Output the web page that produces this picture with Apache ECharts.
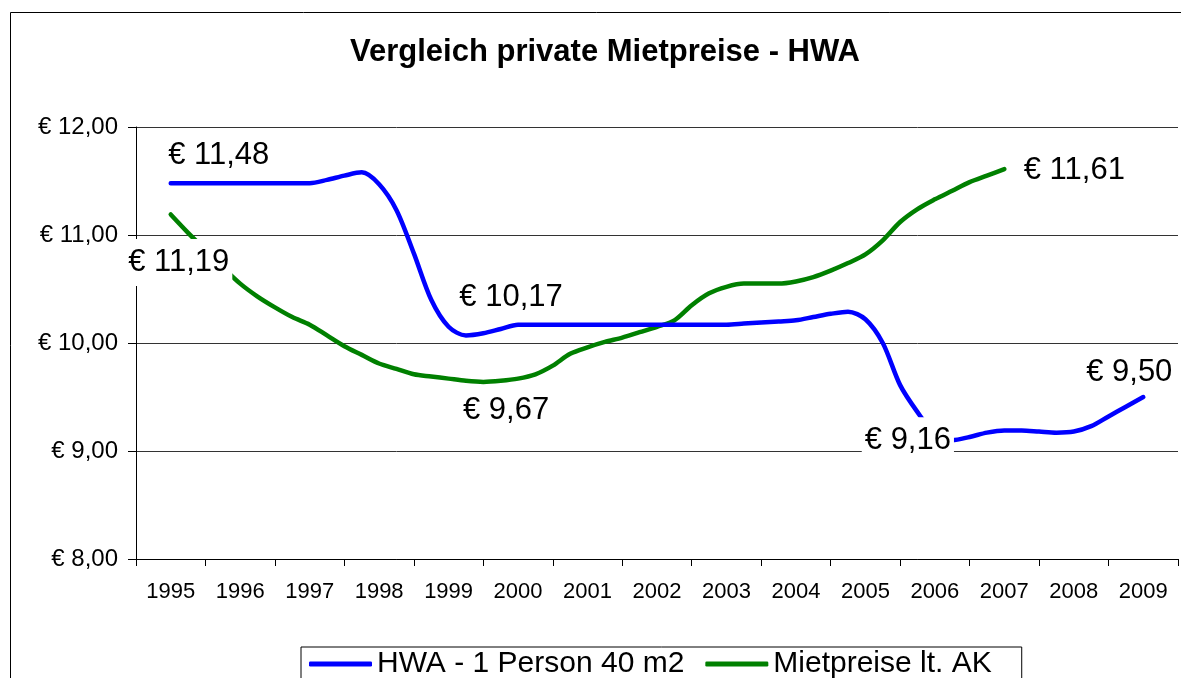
<!DOCTYPE html>
<html>
<head>
<meta charset="utf-8">
<script src="https://cdn.jsdelivr.net/npm/echarts@6/dist/echarts.min.js"></script>
<style>
html,body{margin:0;padding:0;background:#fff;}
#chart{width:1181px;height:678px;}
</style>
</head>
<body>
<div id="chart"></div>
<script>
// Categories (years) shown on the x axis
var years = ['1995','1996','1997','1998','1999','2000','2001','2002','2003','2004','2005','2006','2007','2008','2009'];
// Quarterly readings, starting at 1995.0, step 0.25 year
var startYear = 1995;
var step = 0.25;
var hwaValues = [
  11.48,11.48,11.48,11.48, 11.48,11.48,11.48,11.48,
  11.48,11.51,11.55,11.58, 11.47,11.23,10.83,10.40,
  10.15,10.07,10.09,10.13, 10.17,10.17,10.17,10.17,
  10.17,10.17,10.17,10.17, 10.17,10.17,10.17,10.17,
  10.17,10.18,10.19,10.20, 10.21,10.24,10.27,10.29,
  10.22,10.00,9.61,9.36, 9.16,9.10,9.13,9.17,
  9.19,9.19,9.18,9.17, 9.18,9.23,9.32,9.41,
  9.50
];
var akValues = [
  11.19,11.02,10.86,10.70, 10.55,10.43,10.33,10.24,
  10.17,10.07,9.97,9.89, 9.81,9.76,9.71,9.69,
  9.67,9.65,9.64,9.65, 9.67,9.71,9.79,9.90,
  9.96,10.01,10.05,10.10, 10.15,10.21,10.35,10.46,
  10.52,10.55,10.55,10.55, 10.57,10.61,10.67,10.74,
  10.82,10.95,11.12,11.24, 11.33,11.41,11.49,11.55,
  11.61
];
var seriesNames = ['HWA - 1 Person 40 m2', 'Mietpreise lt. AK'];
var yTicks = [8, 9, 10, 11, 12];

// labelled points: index -> [offsetX, offsetY, withBackground]
var hwaLabels = {0: [48, -28, false], 20: [-7, -27, false], 44: [-27, 7, true], 56: [-14, -25, false]};
var akLabels = {0: [8, 48, true], 20: [-12, 32, false], 48: [70, 1, false]};

function euro(v) { return '\u20AC ' + v.toFixed(2).replace('.', ','); }

var FONT = 'Liberation Sans, Arial, sans-serif';

function buildData(values, labels) {
  return values.map(function (v, i) {
    var item = { value: [startYear + i * step, v] };
    if (labels[i]) {
      var l = labels[i];
      item.label = {
        show: true,
        position: 'inside',
        offset: [l[0], l[1]],
        formatter: function (p) { return euro(p.value[1]); },
        fontSize: 31,
        fontFamily: FONT,
        color: '#000',
        backgroundColor: l[2] ? '#fff' : 'transparent',
        padding: l[2] ? [9, 3, 7, 3] : 0
      };
    }
    return item;
  });
}

var chart = echarts.init(document.getElementById('chart'), null, { renderer: 'canvas' });
chart.setOption({
  backgroundColor: '#fff',
  animation: false,
  graphic: [{
    type: 'rect', z: -10, silent: true,
    shape: { x: 10.5, y: 12.5, width: 1200, height: 700 },
    style: { fill: null, stroke: '#000', lineWidth: 1 }
  }],
  title: {
    text: 'Vergleich private Mietpreise - HWA',
    left: 350, top: 37,
    padding: 0,
    textStyle: { fontSize: 31, fontWeight: 'bold', fontFamily: FONT, color: '#000' }
  },
  legend: {
    data: seriesNames,
    left: 301, top: 647,
    orient: 'horizontal',
    borderColor: '#000', borderWidth: 1,
    padding: [2, 30, 20, 8],
    itemWidth: 63, itemHeight: 5, itemGap: 21,
    icon: 'roundRect',
    textStyle: { fontSize: 30, fontFamily: FONT, color: '#000' }
  },
  grid: { left: 136, right: 3, top: 127, bottom: 119, containLabel: false },
  xAxis: [{
    type: 'category',
    data: years,
    boundaryGap: true,
    axisLine: { show: true, lineStyle: { color: '#000', width: 1 } },
    axisTick: { show: true, alignWithLabel: false, length: 7, lineStyle: { color: '#000' } },
    axisLabel: { fontSize: 22, fontFamily: FONT, color: '#000', margin: 22, interval: 0 },
    splitLine: { show: false }
  }, {
    type: 'value',
    min: 1994.5, max: 2009.5,
    show: false,
    splitLine: { show: false }
  }],
  yAxis: {
    type: 'value',
    min: yTicks[0], max: yTicks[yTicks.length - 1], interval: 1,
    axisLine: { show: true, lineStyle: { color: '#000', width: 1 } },
    axisTick: { show: true, inside: false, length: 8, lineStyle: { color: '#000' } },
    axisLabel: { fontSize: 24, fontFamily: FONT, color: '#000', margin: 18, formatter: function (v) { return euro(v); } },
    splitLine: { show: true, lineStyle: { color: '#333', width: 1 } }
  },
  series: [{
    name: seriesNames[0],
    type: 'line',
    xAxisIndex: 1,
    data: buildData(hwaValues, hwaLabels),
    smooth: 0.3,
    symbol: 'circle', symbolSize: 1, showSymbol: true,
    itemStyle: { color: '#0000FF' },
    lineStyle: { color: '#0000FF', width: 4.5, cap: 'round' },
    label: { show: false },
    z: 3
  }, {
    name: seriesNames[1],
    type: 'line',
    xAxisIndex: 1,
    data: buildData(akValues, akLabels),
    smooth: 0.3,
    symbol: 'circle', symbolSize: 1, showSymbol: true,
    itemStyle: { color: '#008000' },
    lineStyle: { color: '#008000', width: 4.5, cap: 'round' },
    label: { show: false },
    z: 2
  }]
});
</script>
</body>
</html>
